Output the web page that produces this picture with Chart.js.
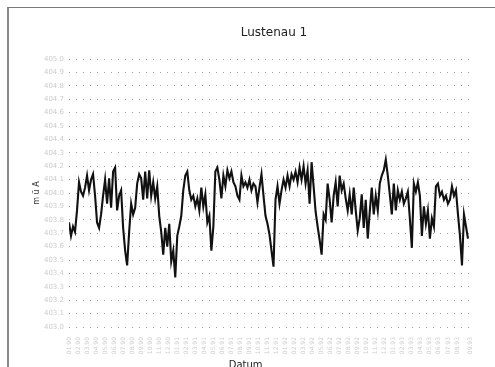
<!DOCTYPE html>
<html>
<head>
<meta charset="utf-8">
<script src="https://cdn.jsdelivr.net/npm/chart.js@4"></script>
<style>
  html, body { margin: 0; padding: 0; background: #fff; overflow: hidden; }
  #wrap { position: absolute; left: 0; top: 0; width: 495px; height: 380px; }
  #frame { position: absolute; left: 7px; top: 7px; width: 500px; height: 400px;
           border-top: 1px solid #7a7a7a; border-left: 2px solid #8a8a8a; }
</style>
</head>
<body>
<div id="frame"></div>
<div id="wrap"><canvas id="lustenau" width="495" height="380"></canvas></div>
<script>
// Wasserstand Lustenau 1, Werte in m ü A
const levels = [
    403.78, 403.68, 403.75, 403.71, 403.87, 404.08, 404.01, 403.98, 404.04, 404.13,
    404.02, 404.10, 404.14, 403.98, 403.78, 403.74, 403.84, 403.98, 404.10, 403.92,
    404.11, 403.89, 404.16, 404.19, 403.87, 403.98, 404.02, 403.74, 403.57, 403.46,
    403.71, 403.92, 403.84, 403.89, 404.07, 404.14, 404.11, 403.95, 404.16, 403.96,
    404.17, 403.98, 404.08, 403.96, 404.05, 403.83, 403.71, 403.54, 403.74, 403.60,
    403.77, 403.49, 403.57, 403.37, 403.68, 403.75, 403.83, 404.02, 404.13, 404.16,
    404.02, 403.95, 403.98, 403.90, 403.96, 403.87, 404.04, 403.90, 403.99, 403.78,
    403.83, 403.57, 403.75, 404.16, 404.19, 404.10, 403.96, 404.13, 404.05, 404.17,
    404.11, 404.16, 404.08, 404.05, 403.98, 403.95, 404.13, 404.05, 404.08, 404.04,
    404.10, 404.02, 404.07, 404.05, 403.93, 404.04, 404.14, 403.98, 403.83, 403.77,
    403.69, 403.57, 403.45, 403.95, 404.05, 403.92, 404.02, 404.10, 404.04, 404.13,
    404.05, 404.14, 404.10, 404.16, 404.08, 404.19, 404.10, 404.20, 404.07, 404.17,
    403.92, 404.23, 404.05, 403.86, 403.75, 403.65, 403.54, 403.84, 403.80, 404.07,
    403.95, 403.78, 403.98, 404.08, 403.90, 404.13, 404.02, 404.07, 403.96, 403.87,
    403.99, 403.84, 404.04, 403.87, 403.72, 403.81, 403.99, 403.74, 403.95, 403.66,
    403.86, 404.04, 403.84, 403.98, 403.87, 404.07, 404.13, 404.17, 404.25, 404.13,
    403.99, 403.84, 404.07, 403.87, 404.02, 403.95, 404.01, 403.92, 403.96, 404.01,
    403.81, 403.59, 404.07, 404.01, 404.08, 403.98, 403.68, 403.90, 403.77, 403.87,
    403.66, 403.81, 403.75, 404.05, 404.07, 403.98, 404.01, 403.95, 403.98, 403.92,
    403.95, 404.05, 403.98, 404.02, 403.84, 403.68, 403.46, 403.84, 403.75, 403.66
];

// Messtage (Tag seit Beginn), alle 2 Tage
const days = levels.map((v, i) => i * 2);

const tickLabels = [
    '01.90', '02.90', '03.90', '04.90', '05.90', '06.90', '07.90', '08.90', '09.90', '10.90', '11.90', '12.90',
    '01.91', '02.91', '03.91', '04.91', '05.91', '06.91', '07.91', '08.91', '09.91', '10.91', '11.91', '12.91',
    '01.92', '02.92', '03.92', '04.92', '05.92', '06.92', '07.92', '08.92', '09.92', '10.92', '11.92', '12.92',
    '01.93', '02.93', '03.93', '04.93', '05.93', '06.93', '07.93', '08.93', '09.93'
];

// Titel über der Zeichenfläche, etwas nach rechts versetzt wie im Original
const titlePlugin = {
    id: 'plotTitle',
    afterDraw(chart) {
        const ctx = chart.ctx;
        ctx.save();
        ctx.fillStyle = '#222';
        ctx.font = '12px "DejaVu Sans"';
        ctx.textAlign = 'center';
        ctx.textBaseline = 'middle';
        ctx.fillText('Lustenau 1', 274, 33);
        ctx.restore();
    }
};

const ctx = document.getElementById('lustenau').getContext('2d');

new Chart(ctx, {
    type: 'line',
    data: {
        datasets: [{
            label: 'Lustenau 1',
            data: days.map((d, i) => ({ x: d, y: levels[i] })),
            borderColor: '#111111',
            borderWidth: 2.1,
            pointRadius: 0,
            tension: 0,
            fill: false
        }]
    },
    plugins: [titlePlugin],
    options: {
        responsive: false,
        animation: false,
        layout: { padding: { left: 0, right: 25, top: 59, bottom: 0 } },
        plugins: {
            legend: { display: false },
            tooltip: { enabled: false },
            title: { display: false }
        },
        scales: {
            x: {
                type: 'linear',
                min: 0,
                max: 400,
                afterFit: scale => { scale.height = 53; },
                grid: { display: false },
                border: { display: false },
                ticks: {
                    stepSize: 9,
                    autoSkip: false,
                    minRotation: 90,
                    maxRotation: 90,
                    padding: 2,
                    color: '#cccccc',
                    font: { family: 'DejaVu Sans', size: 6 },
                    callback: (v, i) => tickLabels[i] !== undefined ? tickLabels[i] : ''
                },
                title: {
                    display: true,
                    text: 'Datum\u00a0\u00a0\u00a0\u00a0\u00a0\u00a0\u00a0\u00a0\u00a0\u00a0\u00a0\u00a0\u00a0\u00a0\u00a0',
                    color: '#222',
                    font: { family: 'DejaVu Sans', size: 10 },
                    padding: { top: 0, bottom: 9 }
                }
            },
            y: {
                min: 403.0,
                max: 405.0,
                afterFit: scale => { scale.width = 69; },
                grid: {
                    color: '#a0a0a0',
                    lineWidth: 1,
                    drawTicks: false
                },
                border: { display: false, dash: [1, 6] },
                ticks: {
                    stepSize: 0.1,
                    padding: 5,
                    color: '#cccccc',
                    font: { family: 'DejaVu Sans', size: 7 },
                    callback: v => v.toFixed(1)
                },
                title: {
                    display: true,
                    text: 'm ü A',
                    color: '#333',
                    font: { family: 'DejaVu Sans', size: 8 },
                    padding: { top: 32, bottom: 0 }
                }
            }
        }
    }
});
</script>
</body>
</html>
